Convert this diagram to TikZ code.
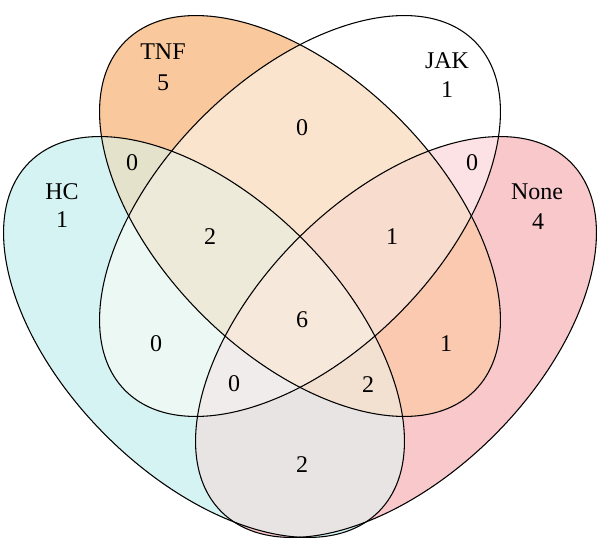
\documentclass[tikz,border=0pt]{standalone}
\usepackage{fontspec}
\setmainfont{Liberation Serif}
\definecolor{colH}{RGB}{213,243,242}
\definecolor{colT}{RGB}{249,200,156}
\definecolor{colJ}{RGB}{255,255,255}
\definecolor{colN}{RGB}{248,200,203}
\definecolor{colHT}{RGB}{229,226,203}
\definecolor{colHJ}{RGB}{236,248,244}
\definecolor{colHN}{RGB}{232,228,228}
\definecolor{colTJ}{RGB}{251,228,205}
\definecolor{colTN}{RGB}{250,201,176}
\definecolor{colJN}{RGB}{252,226,228}
\definecolor{colHTJ}{RGB}{237,234,218}
\definecolor{colHTN}{RGB}{242,224,208}
\definecolor{colHJN}{RGB}{240,236,236}
\definecolor{colTJN}{RGB}{248,220,205}
\definecolor{colAll}{RGB}{246,232,218}
\begin{document}
\begin{tikzpicture}[x=0.75pt,y=0.75pt,
  eHC/.style={rotate around={-45:(204,200)}, insert path={(204,200) ellipse [x radius=247, y radius=139]}},
  eTNF/.style={rotate around={-45:(300,321)}, insert path={(300,321) ellipse [x radius=247, y radius=139]}},
  eJAK/.style={rotate around={45:(300,321)}, insert path={(300,321) ellipse [x radius=247, y radius=139]}},
  eNone/.style={rotate around={45:(396,200)}, insert path={(396,200) ellipse [x radius=247, y radius=139]}},
  outline/.style={draw=black, line width=0.8pt},
  lbl/.style={font=\fontsize{18}{21}\selectfont, inner sep=0pt, text=black}]
\useasboundingbox (0,0) rectangle (600,537);
% single sets
\fill[colH, eHC];
\fill[colT, eTNF];
\fill[colJ, eJAK];
\fill[colN, eNone];
% pairs
\begin{scope}\clip[eHC]; \fill[colHT, eTNF]; \end{scope}
\begin{scope}\clip[eHC]; \fill[colHJ, eJAK]; \end{scope}
\begin{scope}\clip[eHC]; \fill[colHN, eNone]; \end{scope}
\begin{scope}\clip[eTNF]; \fill[colTJ, eJAK]; \end{scope}
\begin{scope}\clip[eTNF]; \fill[colTN, eNone]; \end{scope}
\begin{scope}\clip[eJAK]; \fill[colJN, eNone]; \end{scope}
% triples
\begin{scope}\clip[eHC]; \clip[eTNF]; \fill[colHTJ, eJAK]; \end{scope}
\begin{scope}\clip[eHC]; \clip[eTNF]; \fill[colHTN, eNone]; \end{scope}
\begin{scope}\clip[eHC]; \clip[eJAK]; \fill[colHJN, eNone]; \end{scope}
\begin{scope}\clip[eTNF]; \clip[eJAK]; \fill[colTJN, eNone]; \end{scope}
% all four
\begin{scope}\clip[eHC]; \clip[eTNF]; \clip[eJAK]; \fill[colAll, eNone]; \end{scope}
% outlines
\path[outline, eHC];
\path[outline, eTNF];
\path[outline, eJAK];
\path[outline, eNone];
% labels
\node[lbl] (tnfname) at (163,485) {TNF};
\node[lbl] (tnfval) at (163,454) {5};
\node[lbl] (jakname) at (447,476) {JAK};
\node[lbl] (jakval) at (447,447) {1};
\node[lbl] (hcname) at (62,345) {HC};
\node[lbl] (hcval) at (62,317) {1};
\node[lbl] (nonename) at (537,345) {None};
\node[lbl] (noneval) at (538,315) {4};
\node[lbl] (vHT) at (132,374) {0};
\node[lbl] (vTJ) at (302,409) {0};
\node[lbl] (vHTJ) at (210,300) {2};
\node[lbl] (vJN) at (472,374) {0};
\node[lbl] (vTJN) at (392,300) {1};
\node[lbl] (vAll) at (302,217) {6};
\node[lbl] (vHJ) at (156,193) {0};
\node[lbl] (vHJN) at (234,153) {0};
\node[lbl] (vHTN) at (368,152) {2};
\node[lbl] (vTN) at (446,193) {1};
\node[lbl] (vHN) at (302,72) {2};
\end{tikzpicture}
\end{document}
